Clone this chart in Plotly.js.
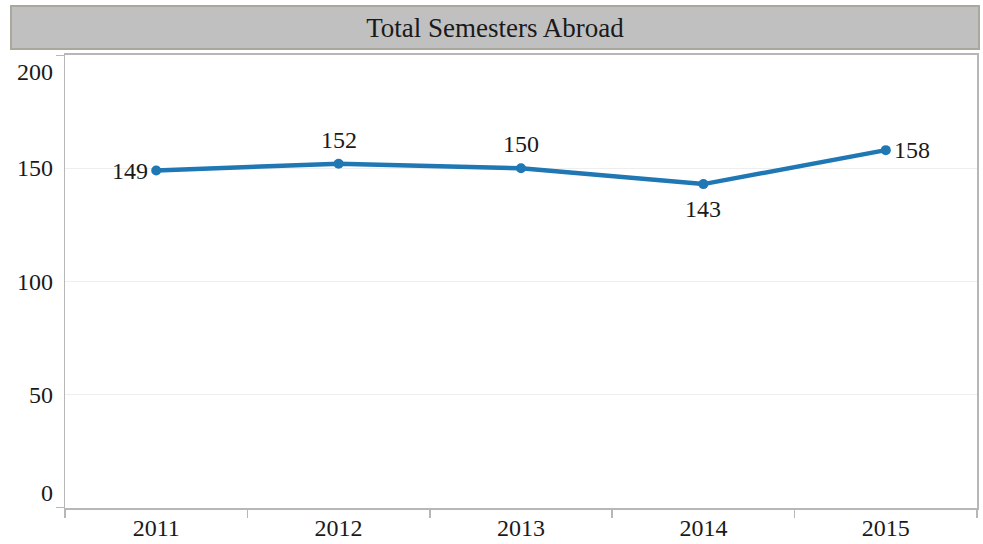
<!DOCTYPE html>
<html><head><meta charset="utf-8">
<script src="https://cdn.plot.ly/plotly-3.0.1.min.js"></script>
<style>html,body{margin:0;padding:0;background:#fff}#chart{width:983px;height:544px}</style>
</head><body><div id="chart"></div>
<script>
const years = ['2011','2012','2013','2014','2015'];
const semesters = [149, 152, 150, 143, 158];
const labelSides = ['left','top','top','bottom','right'];
const yTickVals = [0, 50, 100, 150, 200];
const chartTitle = 'Total Semesters Abroad';

const FONT = '"Liberation Serif", "Times New Roman", serif';
const W = 983, H = 544, L = 65, R = 6, T = 55, B = 36;
const pw = W - L - R, ph = H - T - B;

const trace = {
  x: years, y: semesters, type: 'scatter', mode: 'lines+markers',
  line: {color: '#1f77b4', width: 4.5},
  marker: {color: '#1f77b4', size: 10},
  cliponaxis: false, hoverinfo: 'skip'
};

const labelFont = {family: FONT, size: 24, color: '#1a1a1a'};

// category axis: annotation x given as the category index of each data point
const dataLabels = semesters.map((v, i) => {
  const s = labelSides[i];
  const a = {xref: 'x', yref: 'y', x: years.indexOf(years[i]), y: v, text: String(v), showarrow: false, font: labelFont};
  if (s === 'left') Object.assign(a, {xanchor: 'right', yanchor: 'middle', xshift: -6});
  if (s === 'right') Object.assign(a, {xanchor: 'left', yanchor: 'middle', xshift: 6});
  if (s === 'top') Object.assign(a, {xanchor: 'center', yanchor: 'middle', yshift: 24});
  if (s === 'bottom') Object.assign(a, {xanchor: 'center', yanchor: 'middle', yshift: -25});
  return a;
});

const yLabels = yTickVals.map(v => ({
  xref: 'paper', yref: 'y', x: 0, y: v, xshift: -10,
  text: String(v), showarrow: false, xanchor: 'right',
  yanchor: v === 0 ? 'bottom' : (v === 200 ? 'top' : 'middle'),
  yshift: v === 0 ? 0 : (v === 200 ? -2 : 0),
  font: labelFont
}));

const shapes = [
  {type: 'rect', xref: 'paper', yref: 'paper',
   x0: (11 - L) / pw, x1: (979 - L) / pw, y0: (H - B - 49) / ph, y1: (H - B - 6) / ph,
   fillcolor: '#c0c0c0', line: {color: '#aaa89c', width: 2}, layer: 'below'},
  {type: 'line', xref: 'paper', yref: 'y', x0: -9 / pw, x1: 0, y0: 200, y1: 200, line: {color: '#b7b7b7', width: 2}},
  {type: 'line', xref: 'paper', yref: 'y', x0: -9 / pw, x1: 0, y0: 0, y1: 0, line: {color: '#b7b7b7', width: 2}}
];

const layout = {
  width: W, height: H,
  margin: {l: L, r: R, t: T, b: B, pad: 0},
  paper_bgcolor: '#fff', plot_bgcolor: '#fff',
  showlegend: false,
  font: {family: FONT, size: 24, color: '#1a1a1a'},
  title: {text: chartTitle, font: {family: FONT, size: 27, color: '#1a1a1a'},
          xref: 'container', yref: 'container', x: 495 / W, y: 1 - 28 / H, xanchor: 'center', yanchor: 'middle'},
  xaxis: {
    type: 'category', range: [-0.5, 4.5], fixedrange: true,
    showgrid: false, zeroline: false,
    showline: true, mirror: true, linecolor: '#b7b7b7', linewidth: 2,
    ticks: 'outside', tickson: 'boundaries', ticklen: 8, tickcolor: '#b7b7b7', tickwidth: 1.5,
    ticklabelstandoff: -3,
    tickfont: labelFont
  },
  yaxis: {
    range: [0, 200], fixedrange: true,
    tickvals: [50, 100, 150], showticklabels: false,
    showgrid: true, gridcolor: '#eeeeee', gridwidth: 1, zeroline: false,
    showline: true, mirror: true, linecolor: '#b7b7b7', linewidth: 1.5
  },
  annotations: yLabels.concat(dataLabels),
  shapes: shapes
};

Plotly.newPlot('chart', [trace], layout, {displayModeBar: false, staticPlot: true});
</script></body></html>
